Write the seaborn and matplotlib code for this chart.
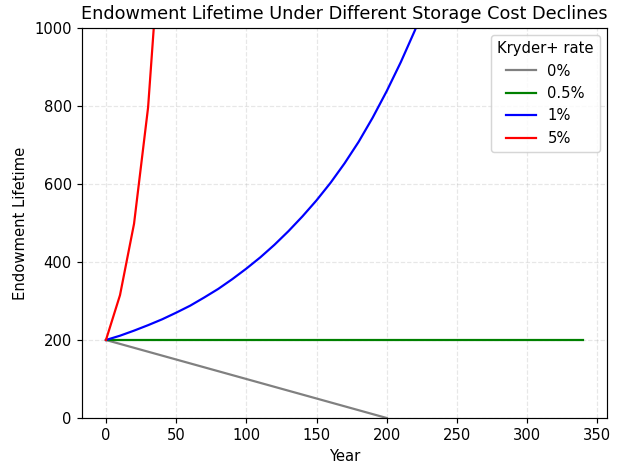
import numpy as np
import pandas as pd
import matplotlib.pyplot as plt
import seaborn as sns

# values
years_0 = [0, 10, 20, 30, 40, 50, 60, 70, 80, 90, 100, 110, 120, 130, 140, 150, 160, 170, 180, 190, 200]
life_0 = [200, 190, 180, 170, 160, 150, 140, 130, 120, 110, 100, 90, 80, 70, 60, 50, 40, 30, 20, 10, 0]

years_05 = [0, 340]
life_05 = [200, 200]

years_1 = [0, 10, 20, 30, 40, 50, 60, 70, 80, 90, 100, 110, 120, 130, 140, 150,
           160, 170, 180, 190, 200, 210, 220, 230]
life_1 = [200, 211, 224, 238, 253, 270, 288, 309, 331, 356, 383, 412, 444, 479, 517, 558,
          603, 653, 708, 770, 838, 912, 993, 1081]

years_5 = [0, 10, 20, 30, 40, 50]
life_5 = [200, 315, 498, 796, 1300, 2100]

rates = ['0%', '0.5%', '1%', '5%']
colors = ['gray', 'green', 'blue', 'red']

frames = []
for rate, xs, ys in zip(rates, [years_0, years_05, years_1, years_5], [life_0, life_05, life_1, life_5]):
    frames.append(pd.DataFrame({'Year': xs, 'Endowment Lifetime': ys, 'Kryder+ rate': rate}))
df = pd.concat(frames, ignore_index=True)

dpi = 106
fig, ax = plt.subplots(figsize=(622 / dpi, 466 / dpi), dpi=dpi)
fig.subplots_adjust(left=0.132, right=0.976, top=0.940, bottom=0.103)

sns.lineplot(data=df, x='Year', y='Endowment Lifetime', hue='Kryder+ rate',
             hue_order=rates, palette=dict(zip(rates, colors)), ax=ax,
             estimator=None, sort=False, linewidth=1.5)

ax.set_ylim(0, 1000)
ax.set_title('Endowment Lifetime Under Different Storage Cost Declines')
ax.grid(True, linestyle='--', alpha=0.3)
ax.legend(title='Kryder+ rate', loc='upper right')

fig.savefig('out.png', dpi=dpi)
